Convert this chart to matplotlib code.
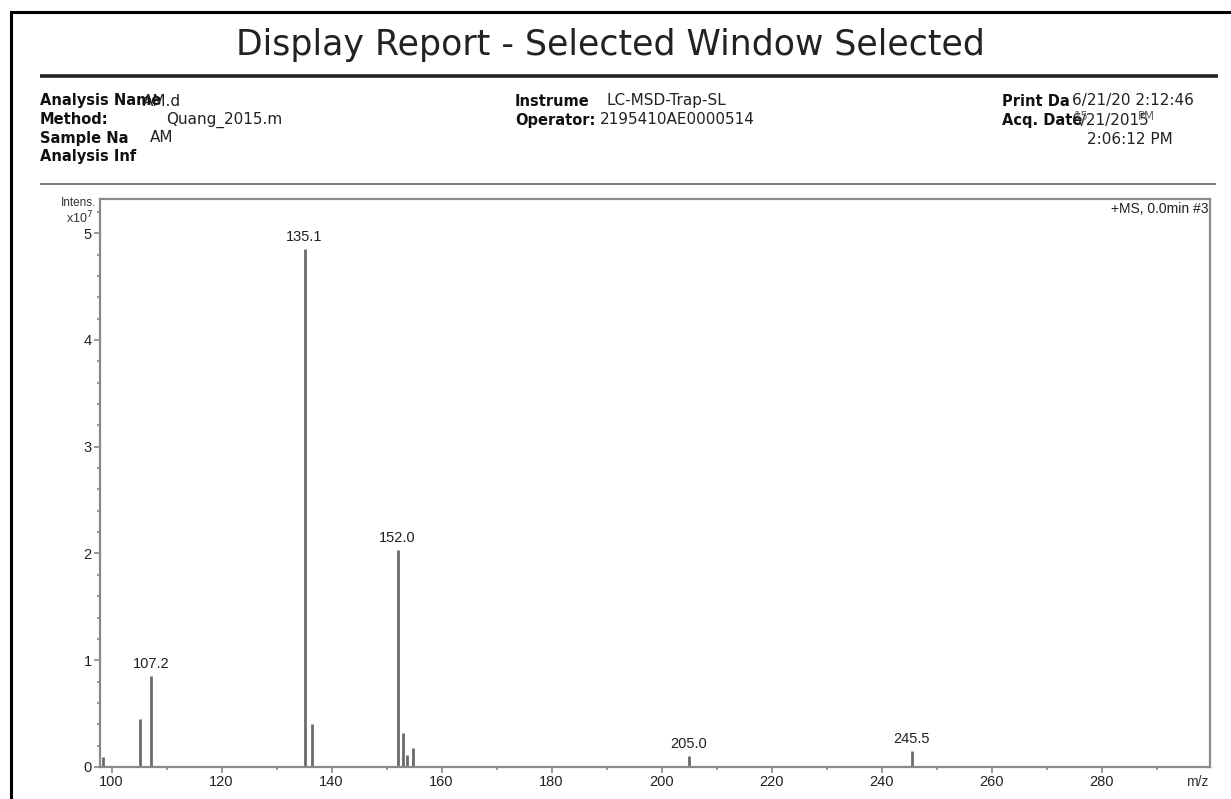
import matplotlib
matplotlib.use('Agg')
import matplotlib.pyplot as plt
from matplotlib.lines import Line2D
from matplotlib.ticker import MultipleLocator

# spectrum peaks (m/z, intensity in units of 1e7)
mz = [98.5, 105.1, 107.2, 135.1, 136.4, 152.0, 152.9, 153.8, 154.8, 205.0, 245.5]
intens = [0.09, 0.45, 0.85, 4.85, 0.40, 2.03, 0.32, 0.11, 0.18, 0.10, 0.15]
labelled = [107.2, 135.1, 152.0, 205.0, 245.5]

x_ticks = [100, 120, 140, 160, 180, 200, 220, 240, 260, 280]
y_ticks = [0, 1, 2, 3, 4, 5]

title = 'Display Report - Selected Window Selected'
left_info = [('Analysis Name', 'AM.d', 143),
             ('Method:', 'Quang_2015.m', 166),
             ('Sample Na', 'AM', 150),
             ('Analysis Inf', '', 0)]
mid_info = [('Instrume', 'LC-MSD-Trap-SL', 607),
            ('Operator:', '2195410AE0000514', 600)]

W, H = 1231, 799
fig = plt.figure(figsize=(W / 100, H / 100), dpi=100)


def fx(px):
    return px / W


def fy(py):
    return 1 - py / H


def hline(x0, x1, y, lw, color):
    fig.add_artist(Line2D([fx(x0), fx(x1)], [fy(y), fy(y)], transform=fig.transFigure,
                          lw=lw, color=color, solid_capstyle='butt'))


# page frame
fig.add_artist(Line2D([fx(11), fx(11)], [fy(12), 0], transform=fig.transFigure, lw=2.2, color='black'))
hline(11, W, 12, 2.2, 'black')

# report header
fig.text(fx(610), fy(45), title, ha='center', va='center', fontsize=25, family='DejaVu Sans', color='#222222')
hline(40, 1218, 76, 2.6, '#222222')
hline(40, 1216, 184, 1.4, '#777777')

fs_b = 10.5
fs = 11
rows_y = [101, 120, 138, 156]
for (lab, val, vx), y in zip(left_info, rows_y):
    fig.text(fx(40), fy(y), lab, fontsize=fs_b, fontweight='bold', va='center', color='#111111')
    if val:
        fig.text(fx(vx), fy(y), val, fontsize=fs, va='center', color='#222222')
for (lab, val, vx), y in zip(mid_info, rows_y):
    fig.text(fx(515), fy(y), lab, fontsize=fs_b, fontweight='bold', va='center', color='#111111')
    fig.text(fx(vx), fy(y), val, fontsize=fs, va='center', color='#222222')

fig.text(fx(1002), fy(101), 'Print Da', fontsize=fs_b, fontweight='bold', va='center', color='#111111')
fig.text(fx(1072), fy(101), '6/21/20 2:12:46', fontsize=fs, va='center', color='#222222')
fig.text(fx(1002), fy(120), 'Acq. Date', fontsize=fs_b, fontweight='bold', va='center', color='#111111')
fig.text(fx(1072), fy(121), '6/21/2015', fontsize=fs, va='center', color='#222222')
fig.text(fx(1074), fy(116), '15', fontsize=fs - 2.5, va='center', color='#666666')
fig.text(fx(1138), fy(116), 'PM', fontsize=fs - 2.5, va='center', color='#666666')
fig.text(fx(1087), fy(139), '2:06:12 PM', fontsize=fs, va='center', color='#222222')

# spectrum panel
ax = fig.add_axes([fx(100), fy(767), fx(1210) - fx(100), fy(199) - fy(767)])
ax.vlines(mz, 0, intens, colors='#6a6a6a', lw=2)
for m, v in zip(mz, intens):
    if m in labelled:
        ax.text(m, v + 0.05, f'{m:.1f}', ha='center', va='bottom', fontsize=10.5,
                family='Liberation Sans', color='#222222')

ax.set_xlim(97.9, 299.7)
ax.set_ylim(0, 5.32)
ax.set_xticks(x_ticks)
ax.set_yticks(y_ticks)
ax.xaxis.set_minor_locator(MultipleLocator(10))
ax.yaxis.set_minor_locator(MultipleLocator(0.2))
for s in ax.spines.values():
    s.set_color('#8a8a8a')
    s.set_linewidth(1.6)
ax.tick_params(which='major', direction='out', length=4, width=1.2, color='#8a8a8a',
               labelsize=10.5, labelcolor='#222222', pad=2)
ax.tick_params(which='minor', direction='out', length=2.5, width=1.2, color='#8a8a8a')
for lbl in ax.get_xticklabels() + ax.get_yticklabels():
    lbl.set_family('Liberation Sans')

ax.text(0.9985, 0.995, '+MS, 0.0min #3', transform=ax.transAxes, ha='right', va='top',
        fontsize=10, family='Liberation Sans', color='#222222')
fig.text(fx(96), fy(203), 'Intens.', ha='right', va='center', fontsize=8.5,
         family='Liberation Sans', color='#333333')
fig.text(fx(93), fy(218), r'x10$^7$', ha='right', va='center', fontsize=9,
         family='Liberation Sans', color='#333333')
fig.text(fx(1208), fy(782), 'm/z', ha='right', va='center', fontsize=10,
         family='Liberation Sans', color='#333333')

fig.savefig('out.png', dpi=100)
